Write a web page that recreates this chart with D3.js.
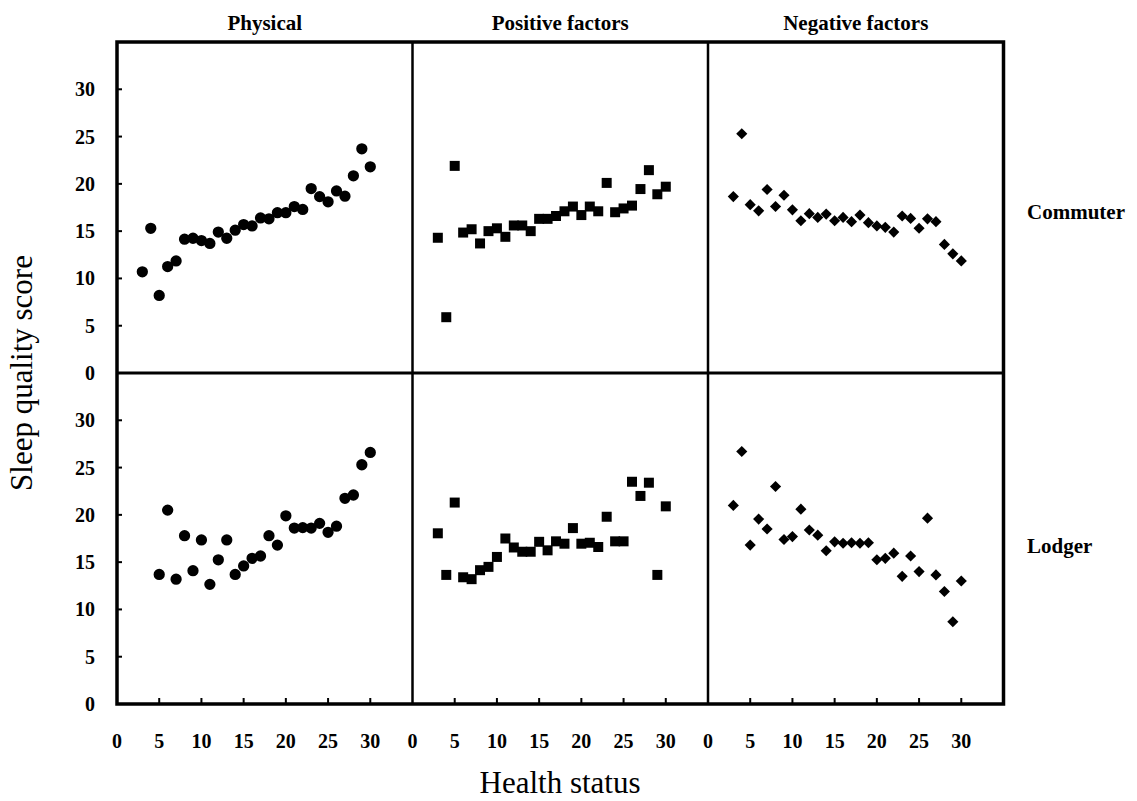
<!DOCTYPE html>
<meta charset="utf-8">
<style>
body { margin: 0; background: #fff; }
text { font-family: 'Liberation Serif', 'Times New Roman', serif; fill: #000; }
.lbl { font-weight: bold; font-size: 20px; }
.head { font-weight: bold; font-size: 21px; }
.title { font-size: 31px; }
</style>
<body>
<script src="https://d3js.org/d3.v7.min.js"></script>
<script>

// data
var columns = ["Physical", "Positive factors", "Negative factors"];
var rows = ["Commuter", "Lodger"];
var xTicks = [0, 5, 10, 15, 20, 25, 30];
var yTicks = [0, 5, 10, 15, 20, 25, 30];

var healthTop = d3.range(3, 31);          // 3..30
var healthLodgerPhys = d3.range(5, 31);   // 5..30
var healthLodger = d3.range(3, 31);

var commuterPhysical = [10.7, 15.3, 8.2, 11.25, 11.85, 14.15, 14.25, 14.0, 13.7, 14.9, 14.25, 15.1, 15.7, 15.55,
  16.4, 16.3, 16.95, 16.95, 17.6, 17.3, 19.5, 18.65, 18.1, 19.25, 18.7, 20.85, 23.7, 21.8];
var commuterPositive = [14.3, 5.9, 21.9, 14.85, 15.2, 13.7, 15.0, 15.3, 14.4, 15.6, 15.6, 15.0, 16.3, 16.3,
  16.6, 17.1, 17.6, 16.7, 17.6, 17.1, 20.1, 17.0, 17.4, 17.7, 19.45, 21.45, 18.9, 19.7];
var commuterNegative = [18.65, 25.3, 17.8, 17.15, 19.4, 17.6, 18.8, 17.25, 16.1, 16.85, 16.45, 16.8, 16.1, 16.45,
  16.0, 16.7, 15.9, 15.55, 15.4, 14.9, 16.6, 16.35, 15.3, 16.3, 16.0, 13.6, 12.6, 11.85];
var lodgerPhysical = [13.7, 20.5, 13.2, 17.8, 14.1, 17.35, 12.65, 15.25, 17.35, 13.7, 14.6, 15.4, 15.65,
  17.8, 16.8, 19.9, 18.6, 18.65, 18.6, 19.1, 18.15, 18.8, 21.75, 22.1, 25.3, 26.6];
var lodgerPositive = [18.05, 13.65, 21.3, 13.4, 13.2, 14.15, 14.5, 15.55, 17.5, 16.55, 16.1, 16.1, 17.15, 16.25,
  17.2, 16.95, 18.6, 16.95, 17.05, 16.6, 19.8, 17.2, 17.2, 23.5, 22.0, 23.4, 13.65, 20.9];
var lodgerNegative = [21.0, 26.7, 16.8, 19.55, 18.5, 23.0, 17.4, 17.7, 20.6, 18.4, 17.85, 16.2, 17.15, 17.0,
  17.05, 17.0, 17.05, 15.25, 15.4, 15.95, 13.5, 15.65, 14.0, 19.65, 13.65, 11.9, 8.7, 13.0];

var panels = [
  { row: 0, col: 0, x: healthTop, y: commuterPhysical, shape: "circle" },
  { row: 0, col: 1, x: healthTop, y: commuterPositive, shape: "square" },
  { row: 0, col: 2, x: healthTop, y: commuterNegative, shape: "diamond" },
  { row: 1, col: 0, x: healthLodgerPhys, y: lodgerPhysical, shape: "circle" },
  { row: 1, col: 1, x: healthLodger, y: lodgerPositive, shape: "square" },
  { row: 1, col: 2, x: healthLodger, y: lodgerNegative, shape: "diamond" }
];

// diamond = square turned 45 degrees
var symbols = {
  circle: { type: d3.symbolCircle, size: 100, rot: 0 },
  square: { type: d3.symbolSquare, size: 100, rot: 0 },
  diamond: { type: d3.symbolSquare, size: 62, rot: 45 }
};

var W = 1137, H = 801;
var mLeft = 117, mTop = 42, pw = 295.5, ph = 331;

var x = d3.scaleLinear().domain([0, 35]).range([0, pw]);
var y = d3.scaleLinear().domain([0, 35]).range([ph, 0]);

var svg = d3.select("body").append("svg")
    .attr("width", W)
    .attr("height", H);

panels.forEach(function(p) {
  var g = svg.append("g")
      .attr("transform", "translate(" + (mLeft + p.col * pw) + "," + (mTop + p.row * ph) + ")");

  var pts = p.x.map(function(v, i) { return [v, p.y[i]]; });
  var sym = symbols[p.shape];
  g.selectAll("path.pt")
    .data(pts)
    .enter().append("path")
      .attr("class", "pt")
      .attr("transform", function(d) {
        return "translate(" + x(d[0]) + "," + y(d[1]) + ") rotate(" + sym.rot + ")";
      })
      .attr("d", d3.symbol().type(sym.type).size(sym.size))
      .attr("fill", "#000");

  // left ticks only on first column
  if (p.col == 0) {
    g.selectAll("line.yt")
      .data(yTicks.slice(1))
      .enter().append("line")
        .attr("x1", 0).attr("x2", 5)
        .attr("y1", function(d) { return y(d); })
        .attr("y2", function(d) { return y(d); })
        .attr("stroke", "#000").attr("stroke-width", 2);
    g.selectAll("text.yl")
      .data(yTicks)
      .enter().append("text")
        .attr("class", "lbl")
        .attr("x", -22)
        .attr("y", function(d) { return y(d); })
        .attr("dy", "0.35em")
        .attr("text-anchor", "end")
        .text(function(d) { return d; });
  }
  // bottom ticks only on lower row
  if (p.row == 1) {
    g.selectAll("line.xt")
      .data(xTicks.slice(1))
      .enter().append("line")
        .attr("y1", ph).attr("y2", ph - 6)
        .attr("x1", function(d) { return x(d); })
        .attr("x2", function(d) { return x(d); })
        .attr("stroke", "#000").attr("stroke-width", 2);
    g.selectAll("text.xl")
      .data(xTicks)
      .enter().append("text")
        .attr("class", "lbl")
        .attr("x", function(d) { return x(d); })
        .attr("y", ph + 44)
        .attr("text-anchor", "middle")
        .text(function(d) { return d; });
  }
});

// panel frames
svg.append("rect")
    .attr("x", mLeft).attr("y", mTop)
    .attr("width", 3 * pw).attr("height", 2 * ph)
    .attr("fill", "none").attr("stroke", "#000").attr("stroke-width", 3.5);
[1, 2].forEach(function(c) {
  svg.append("line")
      .attr("x1", mLeft + c * pw).attr("x2", mLeft + c * pw)
      .attr("y1", mTop).attr("y2", mTop + 2 * ph)
      .attr("stroke", "#000").attr("stroke-width", 2.5);
});
svg.append("line")
    .attr("x1", mLeft).attr("x2", mLeft + 3 * pw)
    .attr("y1", mTop + ph).attr("y2", mTop + ph)
    .attr("stroke", "#000").attr("stroke-width", 3);

// column titles
svg.selectAll("text.ct")
  .data(columns)
  .enter().append("text")
    .attr("class", "head")
    .attr("x", function(d, i) { return mLeft + i * pw + pw / 2; })
    .attr("y", 30)
    .attr("text-anchor", "middle")
    .text(function(d) { return d; });

// row labels
svg.selectAll("text.rl")
  .data(rows)
  .enter().append("text")
    .attr("class", "head")
    .attr("x", 1027)
    .attr("y", function(d, i) { return [219, 553][i]; })
    .text(function(d) { return d; });

// axis titles
svg.append("text")
    .attr("class", "title")
    .attr("x", 560)
    .attr("y", 793)
    .attr("text-anchor", "middle")
    .text("Health status");

svg.append("text")
    .attr("class", "title")
    .attr("transform", "translate(32," + (mTop + ph) + ") rotate(-90)")
    .attr("text-anchor", "middle")
    .text("Sleep quality score");

</script>
</body>
